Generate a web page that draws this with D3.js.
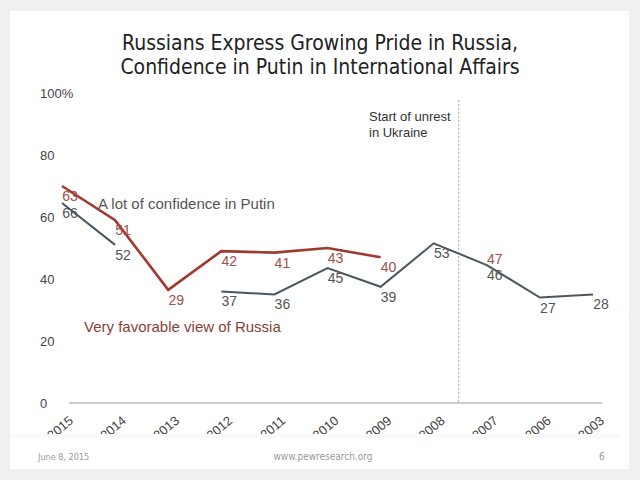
<!DOCTYPE html>
<html>
<head>
<meta charset="utf-8">
<script src="https://cdn.jsdelivr.net/npm/d3@7"></script>
<style>
  html, body { margin: 0; padding: 0; background: #f0f0f0; }
  svg { display: block; }
</style>
</head>
<body>
<script>
// ---- data ----
const years = ["2015","2014","2013","2012","2011","2010","2009","2008","2007","2006","2003"];
// line positions as drawn in the picture (percent)
const confidenceLine = [64.5, 51, null, 36, 35, 43.5, 37.5, 51.5, 44.5, 34, 35];
const favorableLine  = [70, 59, 36.5, 49, 48.5, 50, 47, null, null, null, null];
// printed data labels
const confidenceLabels = [66, 52, null, 37, 36, 45, 39, 53, 46, 27, 28];
const favorableLabels  = [63, 51, 29, 42, 41, 43, 40, null, 47, null, null];
const yTicks = [0, 20, 40, 60, 80, 100];
const titleLines = ["Russians Express Growing Pride in Russia,", "Confidence in Putin in International Affairs"];

const W = 640, H = 480;
const svg = d3.select("body").append("svg").attr("width", W).attr("height", H);

// slide card
svg.append("rect").attr("x", 10).attr("y", 11).attr("width", 619).attr("height", 458).attr("fill", "#ffffff");
svg.append("rect").attr("x", 10).attr("y", 434).attr("width", 610).attr("height", 4).attr("fill", "#fafafa");

// title
svg.append("g").selectAll("text").data(titleLines).join("text")
  .attr("x", 320).attr("y", (d, i) => 50 + i * 24)
  .attr("text-anchor", "middle")
  .attr("font-family", "'Liberation Sans Narrow', 'DejaVu Sans Condensed', sans-serif")
  .attr("font-size", 21).attr("fill", "#222")
  .text(d => d);

const x = d3.scalePoint().domain(years).range([62, 593]);
const y = d3.scaleLinear().domain([0, 100]).range([403, 93]);

svg.append("defs").append("clipPath").attr("id", "chartclip")
  .append("rect").attr("x", 10).attr("y", 80).attr("width", 619).attr("height", 354);

const g = svg.append("g").attr("clip-path", "url(#chartclip)");
const font = "'Liberation Sans', Arial, sans-serif";

// y axis labels
g.append("g").selectAll("text").data(yTicks).join("text")
  .attr("x", 40).attr("y", d => y(d)).attr("dy", "0.35em")
  .attr("font-family", font).attr("font-size", 13).attr("fill", "#444")
  .text(d => d === 100 ? d + "%" : d);

// x axis baseline
g.append("line").attr("x1", 69).attr("x2", 602).attr("y1", y(0)).attr("y2", y(0))
  .attr("stroke", "#999").attr("stroke-width", 1.2);

// x tick labels
g.append("g").selectAll("text").data(years).join("text")
  .attr("transform", d => `translate(${x(d) + 12},${y(0) + 19}) rotate(-40)`)
  .attr("text-anchor", "end")
  .attr("font-family", font).attr("font-size", 13).attr("fill", "#444")
  .text(d => d);

// unrest marker
const step = x.step();
const xm = x("2008") + step * 0.47;
g.append("line").attr("x1", xm).attr("x2", xm).attr("y1", 100).attr("y2", y(0))
  .attr("stroke", "#aaa").attr("stroke-width", 1).attr("stroke-dasharray", "2,2");
g.append("g").selectAll("text").data(["Start of unrest", "in Ukraine"]).join("text")
  .attr("x", 369).attr("y", (d, i) => 121 + i * 16)
  .attr("font-family", font).attr("font-size", 13).attr("fill", "#333")
  .text(d => d);

// lines
const line = d3.line().defined(d => d[1] != null).x(d => x(d[0])).y(d => y(d[1]));
const redC = "#9e3a2e", grayC = "#4b5760";
g.append("path").datum(years.map((yr, i) => [yr, favorableLine[i]]))
  .attr("d", line).attr("fill", "none").attr("stroke", redC).attr("stroke-width", 2.6);
g.append("path").datum(years.map((yr, i) => [yr, confidenceLine[i]]))
  .attr("d", line).attr("fill", "none").attr("stroke", grayC).attr("stroke-width", 2);

// data labels
const labColRed = "#a0504a", labColGray = "#555";
g.append("g").selectAll("text").data(years.map((yr, i) => ({yr, v: confidenceLabels[i], p: confidenceLine[i]})).filter(d => d.v != null))
  .join("text")
  .attr("x", d => x(d.yr) + 8).attr("y", d => y(d.p) + 10).attr("dy", "0.35em")
  .attr("text-anchor", "middle")
  .attr("font-family", font).attr("font-size", 14).attr("fill", labColGray)
  .text(d => d.v);
g.append("g").selectAll("text").data(years.map((yr, i) => ({yr, v: favorableLabels[i], p: favorableLine[i] != null ? favorableLine[i] : confidenceLine[i] + 5})).filter(d => d.v != null))
  .join("text")
  .attr("x", d => x(d.yr) + 8).attr("y", d => y(d.p) + 10).attr("dy", "0.35em")
  .attr("text-anchor", "middle")
  .attr("font-family", font).attr("font-size", 14).attr("fill", labColRed)
  .text(d => d.v);

// series annotations
g.append("text").attr("x", 98).attr("y", 204).attr("dy", "0.35em")
  .attr("font-family", font).attr("font-size", 15).attr("fill", "#555")
  .text("A lot of confidence in Putin");
g.append("text").attr("x", 84).attr("y", 327).attr("dy", "0.35em")
  .attr("font-family", font).attr("font-size", 15).attr("fill", "#8a3f3a")
  .text("Very favorable view of Russia");

// footer
const foot = svg.append("g").attr("font-family", "'Liberation Sans Narrow', 'DejaVu Sans Condensed', sans-serif").attr("fill", "#9a9a9a");
foot.append("text").attr("x", 38).attr("y", 460).attr("font-size", 9).text("June 8, 2015");
foot.append("text").attr("x", 323).attr("y", 460).attr("text-anchor", "middle").attr("font-size", 10).text("www.pewresearch.org");
foot.append("text").attr("x", 599).attr("y", 460).attr("font-size", 10).text("6");
</script>
</body>
</html>
